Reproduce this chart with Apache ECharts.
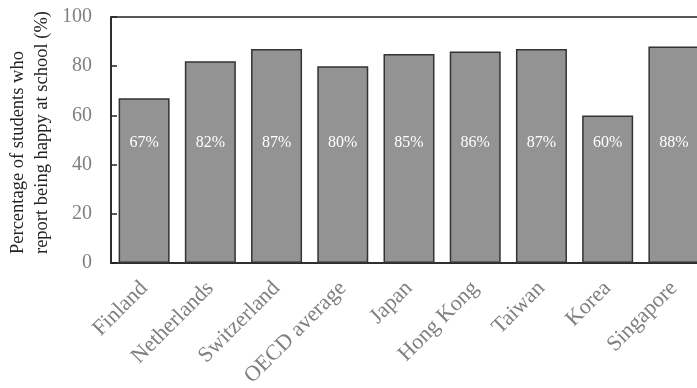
<!DOCTYPE html>
<html>
<head>
<meta charset="utf-8">
<script src="https://cdn.jsdelivr.net/npm/echarts@6/dist/echarts.min.js"></script>
<style>
  html, body { margin: 0; padding: 0; background: #fff; }
  #chart { width: 697px; height: 388px; }
</style>
</head>
<body>
<div id="chart"></div>
<script>
// Share of students who report being happy at school, by education system
const categories = ['Finland', 'Netherlands', 'Switzerland', 'OECD average', 'Japan', 'Hong Kong', 'Taiwan', 'Korea', 'Singapore'];
const happyShare = [67, 82, 87, 80, 85, 86, 87, 60, 88];
const yTicks = { min: 0, max: 100, interval: 20 };
const titleLines = ['Percentage of students who', 'report being happy at school (%)'];

const serif = '"Liberation Serif", "DejaVu Serif", serif';
const chart = echarts.init(document.getElementById('chart'), null, { renderer: 'canvas' });

chart.setOption({
  backgroundColor: '#ffffff',
  animation: false,
  // plot box runs past the right edge of the canvas
  grid: {
    left: 111, top: 17, width: 596, height: 246,
    outerBoundsMode: 'none',
    containLabel: false,
    show: true, borderColor: '#222', borderWidth: 1.5, backgroundColor: 'transparent'
  },
  xAxis: {
    type: 'category',
    data: categories,
    axisLine: { show: true, lineStyle: { color: '#222', width: 1.5 } },
    axisTick: { show: false },
    axisLabel: {
      rotate: 45, margin: 22, interval: 0,
      color: '#7f7f7f', fontFamily: serif, fontSize: 22
    },
    splitLine: { show: false }
  },
  yAxis: {
    type: 'value',
    min: yTicks.min, max: yTicks.max, interval: yTicks.interval,
    axisLine: { show: true, lineStyle: { color: '#222', width: 1.5 } },
    axisTick: { show: true, inside: true, length: 6, lineStyle: { color: '#222', width: 1.5 } },
    axisLabel: { margin: 19, color: '#808080', fontFamily: serif, fontSize: 20 },
    splitLine: { show: false }
  },
  graphic: titleLines.map((line, i) => ({
    type: 'text',
    x: 18 + i * 24,
    y: 254,
    rotation: Math.PI / 2,
    style: {
      text: line,
      font: '18.5px ' + serif,
      fill: '#222',
      textAlign: 'left',
      textVerticalAlign: 'middle'
    }
  })),
  series: [{
    type: 'bar',
    data: happyShare,
    barCategoryGap: '23%',
    itemStyle: { color: '#939394', borderColor: '#333', borderWidth: 1.5 },
    label: {
      show: true,
      position: 'insideBottom',
      distance: 112,
      formatter: p => p.value + '%',
      color: '#ffffff',
      fontFamily: serif,
      fontSize: 16
    }
  }]
});
</script>
</body>
</html>
